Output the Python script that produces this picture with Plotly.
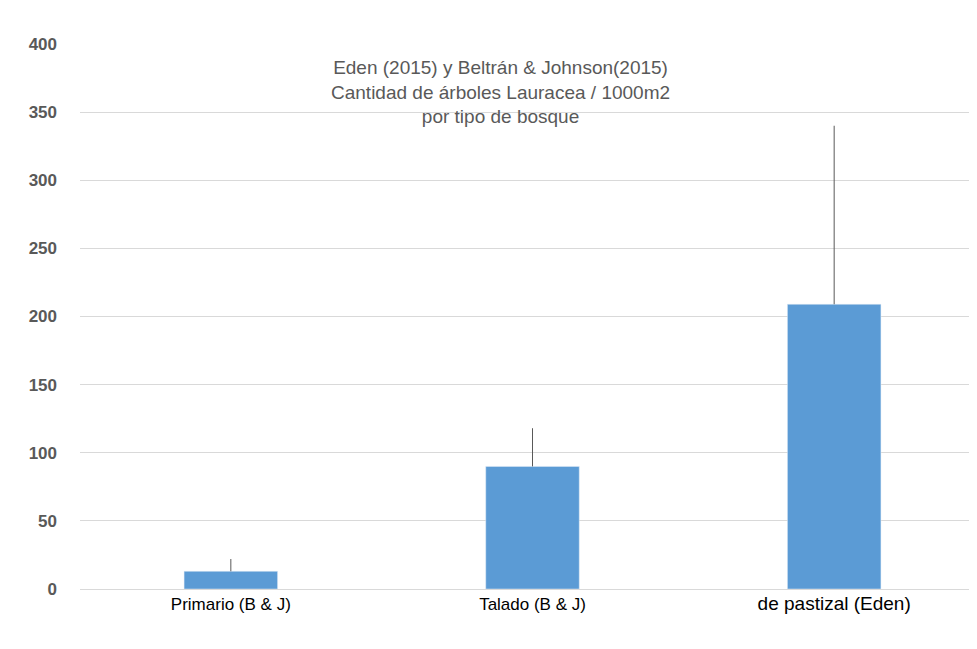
import plotly.graph_objects as go

categories = ["Primario (B & J)", "Talado (B & J)", "de pastizal (Eden)"]
values = [13, 90, 209]
errors_up = [9, 28, 131]
tick_vals = [0, 50, 100, 150, 200, 250, 300, 350, 400]

fig = go.Figure(go.Bar(
    x=categories,
    y=values,
    width=0.31,
    marker=dict(color="#5b9bd5"),
    error_y=dict(type="data", array=errors_up, arrayminus=[0, 0, 0],
                 symmetric=False, color="#595959", thickness=1, width=0),
))

fig.update_layout(
    width=977, height=649,
    margin=dict(l=72, r=0, t=36, b=68),
    plot_bgcolor="white", paper_bgcolor="white",
    font=dict(family="Liberation Sans, Arial", color="#595959"),
    showlegend=False,
    annotations=[dict(
        text="Eden (2015) y Beltrán & Johnson(2015)<br>Cantidad de árboles Lauracea / 1000m2<br>por tipo de bosque",
        x=0.465, y=0.98, xref="paper", yref="paper", showarrow=False,
        xanchor="center", yanchor="top",
        font=dict(size=19, color="#595959"),
    )],
)
fig.update_yaxes(range=[0, 400], tickvals=tick_vals, gridcolor="#d9d9d9",
                 ticktext=[f"<b>{v}</b>" for v in tick_vals],
                 tickfont=dict(size=17, color="#595959"),
                 ticklabelstandoff=22, zeroline=False, showline=False)
fig.update_xaxes(showline=True, linecolor="#d9d9d9", linewidth=1,
                 tickvals=categories,
                 ticktext=categories[:2] + [f"<span style='font-size:19px'>{categories[2]}</span>"],
                 tickfont=dict(size=17, color="#000000"))

fig.write_html("out.html")
